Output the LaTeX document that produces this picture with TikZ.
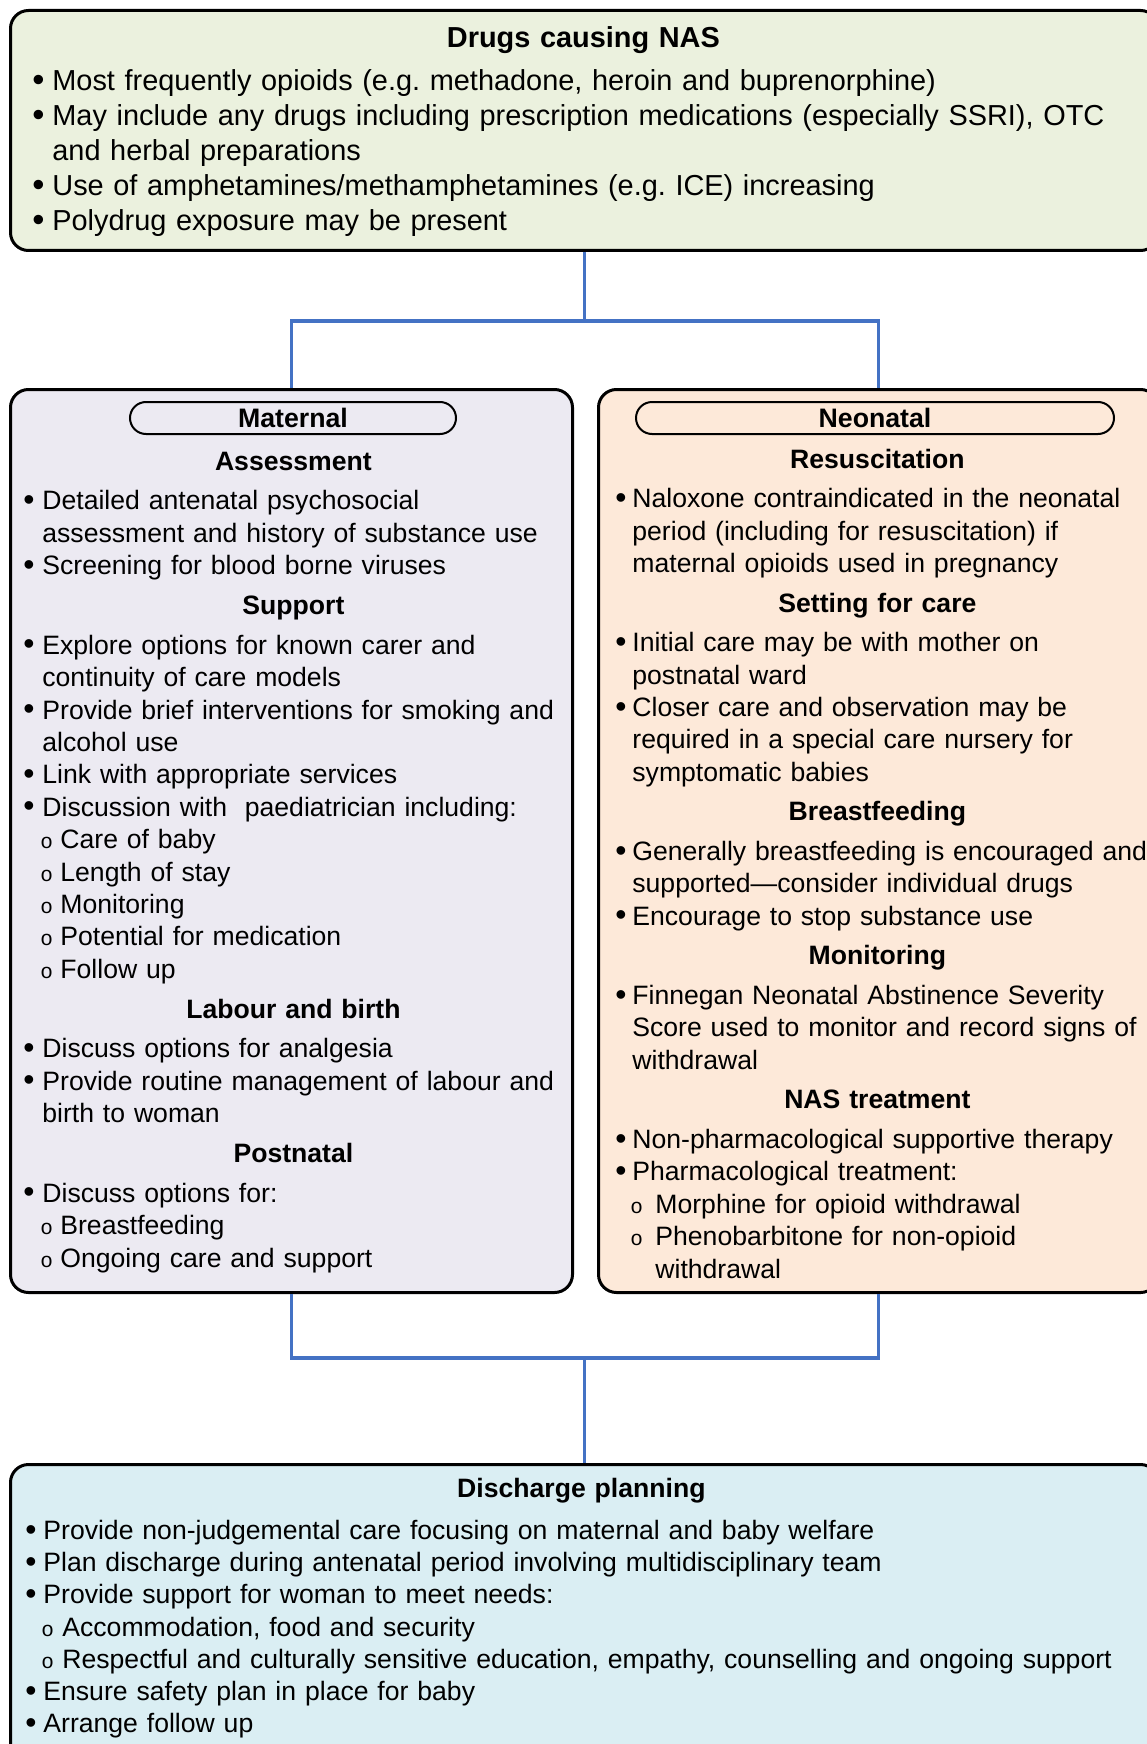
\documentclass[tikz,border=0pt]{standalone}
\usepackage{graphicx}
\usepackage{fontspec}
\setmainfont{Liberation Sans}
\newfontfamily\monofont{Liberation Mono}
\usetikzlibrary{positioning}
\frenchspacing

\definecolor{drugfill}{HTML}{EBF1DE}
\definecolor{matfill}{HTML}{ECEAF2}
\definecolor{neofill}{HTML}{FDE9D9}
\definecolor{disfill}{HTML}{DAEEF3}
\definecolor{linkblue}{HTML}{4472C4}

% list layout: bullet hang, sub-bullet offset, sub hang, heading width, heading gap
\newlength{\bhang}\newlength{\sbul}\newlength{\shang}\newlength{\hdw}\newlength{\hdgap}
\newcommand{\layout}[5]{\setlength{\bhang}{#1}\setlength{\sbul}{#2}\setlength{\shang}{#3}\setlength{\hdw}{#4}\setlength{\hdgap}{#5}}
\newcommand{\dotb}{\raisebox{-0.3pt}{\scalebox{1.2}{\textbullet}}}
\newcommand{\hdtop}[1]{\noindent\makebox[\hdw][c]{\bfseries #1}\par\vspace{\hdgap}}
\newcommand{\hd}[1]{\vspace{\hdgap}\noindent\makebox[\hdw][c]{\bfseries #1}\par\vspace{\hdgap}}
\newcommand{\bi}[1]{\hangindent=\bhang\hangafter=1\noindent\makebox[\bhang][l]{\dotb}#1\par}
\newcommand{\si}[1]{\hangindent=\shang\hangafter=1\noindent\hspace*{\sbul}\makebox[\dimexpr\shang-\sbul\relax][l]{\monofont\fontsize{10.5}{10}\selectfont o}#1\par}

\tikzset{
  box/.style={draw, line width=1.5pt, rounded corners=9pt, anchor=north west, inner sep=0pt},
  pill/.style={draw, line width=1pt, rounded corners=8pt, minimum height=16pt, inner sep=0pt,
    font=\fontsize{13.35}{16}\selectfont\bfseries},
  link/.style={draw=linkblue, line width=1.6pt},
  body/.style={anchor=base west, inner sep=0pt, align=left, text width=#1,
    font=\fontsize{13.3}{16.2}\selectfont},
}

\begin{document}
\begin{tikzpicture}[x=0.5pt, y=-0.5pt]
\useasboundingbox (0,0) rectangle (1146,1744);

% boxes
\node[box, fill=drugfill, minimum width=574pt, minimum height=120pt] (drugs) at (9,9) {};
\node[box, fill=matfill, minimum width=281pt, minimum height=451.5pt] (mat) at (9,388) {};
\node[box, fill=neofill, minimum width=280pt, minimum height=451.5pt] (neo) at (597,388) {};
\node[box, fill=disfill, minimum width=574pt, minimum height=150pt] (dis) at (9,1463) {};

% connectors
\path (drugs.south) ++(0,69) coordinate (split);
\path (dis.north) ++(0,-105) coordinate (join);
\draw[link] (drugs.south) -- (split);
\draw[link] (mat.north) |- (split) -| (neo.north);
\draw[link] (mat.south) |- (join) -| (neo.south);
\draw[link] (join) -- (dis.north);

% drugs
\node[body=580pt, font=\fontsize{14.45}{17.5}\selectfont] (drugstext) at (32,47.5) {%
\layout{10pt}{0pt}{0pt}{551pt}{4pt}%
\hdtop{Drugs causing NAS}
\bi{Most frequently opioids (e.g. methadone, heroin and buprenorphine)}
\bi{May include any drugs including prescription medications (especially SSRI), OTC\newline and herbal preparations}
\bi{Use of amphetamines/methamphetamines (e.g. ICE) increasing}
\bi{Polydrug exposure may be present}};

% maternal
\node[pill, minimum width=163pt] (matpill) at (293,418) {Maternal};
\node[body=300pt] (mattext) at (23,470) {%
\layout{9.5pt}{8.5pt}{18.5pt}{270pt}{3.7pt}%
\hdtop{Assessment}
\bi{Detailed antenatal psychosocial\newline assessment and history of substance use}
\bi{Screening for blood borne viruses}
\hd{Support}
\bi{Explore options for known carer and\newline continuity of care models}
\bi{Provide brief interventions for smoking and\newline alcohol use}
\bi{Link with appropriate services}
\bi{Discussion with~ paediatrician including:}
\si{Care of baby}
\si{Length of stay}
\si{Monitoring}
\si{Potential for medication}
\si{Follow up}
\hd{Labour and birth}
\bi{Discuss options for analgesia}
\bi{Provide routine management of labour and\newline birth to woman}
\hd{Postnatal}
\bi{Discuss options for:}
\si{Breastfeeding}
\si{Ongoing care and support}};

% neonatal
\node[pill, minimum width=239pt] (neopill) at (875,418) {Neonatal};
\node[body=300pt] (neotext) at (615,468) {%
\layout{8.5pt}{7.5pt}{20pt}{262pt}{3.6pt}%
\hdtop{Resuscitation}
\bi{Naloxone contraindicated in the neonatal\newline period (including for resuscitation) if\newline maternal opioids used in pregnancy}
\hd{Setting for care}
\bi{Initial care may be with mother on\newline postnatal ward}
\bi{Closer care and observation may be\newline required in a special care nursery for\newline symptomatic babies}
\hd{Breastfeeding}
\bi{Generally breastfeeding is encouraged and\newline supported---consider individual drugs}
\bi{Encourage to stop substance use}
\hd{Monitoring}
\bi{Finnegan Neonatal Abstinence Severity\newline Score used to monitor and record signs of\newline withdrawal}
\hd{NAS treatment}
\bi{Non-pharmacological supportive therapy}
\bi{Pharmacological treatment:}
\si{Morphine for opioid withdrawal}
\si{Phenobarbitone for non-opioid\newline withdrawal}};

% discharge
\node[body=580pt, font=\fontsize{13.3}{16.1}\selectfont] (distext) at (25,1497.5) {%
\layout{9pt}{8pt}{18.5pt}{556pt}{4.9pt}%
\hdtop{Discharge planning}
\bi{Provide non-judgemental care focusing on maternal and baby welfare}
\bi{Plan discharge during antenatal period involving multidisciplinary team}
\bi{Provide support for woman to meet needs:}
\si{Accommodation, food and security}
\si{Respectful and culturally sensitive education, empathy, counselling and ongoing support}
\bi{Ensure safety plan in place for baby}
\bi{Arrange follow up}};
\end{tikzpicture}
\end{document}
